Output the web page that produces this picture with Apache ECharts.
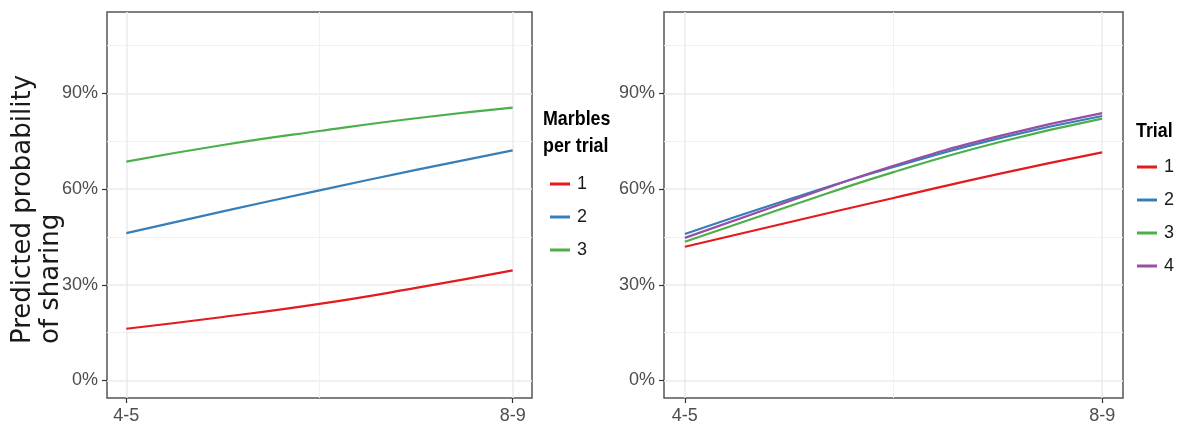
<!DOCTYPE html>
<html>
<head>
<meta charset="utf-8">
<script src="https://cdn.jsdelivr.net/npm/echarts@6/dist/echarts.min.js"></script>
<style>
html,body{margin:0;padding:0;background:#fff;}
#chart{width:1178px;height:427px;}
</style>
</head>
<body>
<div id="chart"></div>
<script>
// Age positions along the x axis where values were read (0 = "4-5", 1 = "8-9")
const agePositions = [0, 0.25, 0.5, 0.75, 1];
const ageTickValues = [0, 1];
const ageTickLabels = ['4-5', '8-9'];
const yTickValues = [0, 30, 60, 90];
const yMinorValues = [15, 45, 75, 105];

// Left panel: Marbles per trial (predicted probability, %)
const marblesNames = ['1', '2', '3'];
const marbles1 = [16.2, 19.9, 24.0, 29.0, 34.5];
const marbles2 = [46.2, 53.0, 59.6, 66.0, 72.1];
const marbles3 = [68.6, 73.8, 78.2, 82.2, 85.5];

// Right panel: Trial (predicted probability, %)
const trialNames = ['1', '2', '3', '4'];
const trial1 = [41.9, 49.6, 57.2, 64.7, 71.5];
const trial2 = [45.9, 56.8, 66.9, 75.8, 82.9];
const trial3 = [43.5, 54.6, 65.3, 74.6, 82.1];
const trial4 = [44.7, 56.2, 67.3, 76.5, 83.8];

const colors = ['#E41A1C', '#377EB8', '#4DAF4A', '#984EA3'];

const tickFont = '"Liberation Sans Narrow", "Liberation Sans", Arial, sans-serif';
const tickColor = '#4d4d4d';

function pairs(vals) { return vals.map((v, i) => [agePositions[i], v]); }

const grids = [
  {left: 107, top: 12, width: 425, height: 386},
  {left: 664, top: 12, width: 459, height: 386}
];

const xAxes = [], yAxes = [];
grids.forEach((g, gi) => {
  xAxes.push({
    type: 'value', gridIndex: gi, min: -0.05, max: 1.05, position: 'bottom',
    axisLine: {show: false, onZero: false},
    axisTick: {show: true, length: 5, customValues: ageTickValues, lineStyle: {color: '#333', width: 1.2}},
    axisLabel: {customValues: ageTickValues, formatter: v => ageTickLabels[ageTickValues.indexOf(v)] || '',
      fontFamily: tickFont, fontSize: 18, color: tickColor, margin: 9},
    splitLine: {show: true, lineStyle: {color: '#ebebeb', width: 1.5}}
  });
  xAxes.push({
    type: 'value', gridIndex: gi, min: -0.05, max: 1.05, position: 'bottom',
    axisLine: {show: false, onZero: false}, axisLabel: {show: false},
    axisTick: {show: false, customValues: [0.5]},
    splitLine: {show: true, lineStyle: {color: '#f1f1f1', width: 1}}
  });
  yAxes.push({
    type: 'value', gridIndex: gi, min: -5.5, max: 115.5, position: 'left',
    axisLine: {show: false, onZero: false},
    axisTick: {show: true, length: 5, customValues: yTickValues, lineStyle: {color: '#333', width: 1.2}},
    axisLabel: {customValues: yTickValues, formatter: v => v + '%', fontFamily: tickFont,
      fontSize: 18, color: tickColor, margin: 9},
    splitLine: {show: true, lineStyle: {color: '#ebebeb', width: 1.5}}
  });
  yAxes.push({
    type: 'value', gridIndex: gi, min: -5.5, max: 115.5, position: 'left',
    axisLine: {show: false, onZero: false}, axisLabel: {show: false},
    axisTick: {show: false, customValues: yMinorValues},
    splitLine: {show: true, lineStyle: {color: '#f1f1f1', width: 1}}
  });
});

const series = [];
[marbles1, marbles2, marbles3].forEach((vals, i) => {
  series.push({name: marblesNames[i], type: 'line', xAxisIndex: 0, yAxisIndex: 0, smooth: true,
    showSymbol: false, data: pairs(vals), lineStyle: {width: 2.2, color: colors[i]}, itemStyle: {color: colors[i]}, z: 5});
});
[trial1, trial2, trial3, trial4].forEach((vals, i) => {
  series.push({name: trialNames[i], type: 'line', xAxisIndex: 2, yAxisIndex: 2, smooth: true,
    showSymbol: false, data: pairs(vals), lineStyle: {width: 2.2, color: colors[i]}, itemStyle: {color: colors[i]}, z: 5});
});

const legendCommon = {
  orient: 'vertical', icon: 'rect', itemWidth: 20, itemHeight: 3, itemGap: 15, padding: 0,
  selectedMode: false,
  textStyle: {fontFamily: tickFont, fontSize: 18, color: '#1a1a1a', lineHeight: 18, padding: [0, 0, 0, 2]}
};

const option = {
  backgroundColor: '#fff',
  animation: false,
  grid: grids.map(g => Object.assign({show: true, borderColor: '#555', borderWidth: 1.5, backgroundColor: 'transparent'}, g)),
  xAxis: xAxes,
  yAxis: yAxes,
  legend: [
    Object.assign({}, legendCommon, {left: 550, top: 175, data: marblesNames.slice()}),
    Object.assign({}, legendCommon, {left: 1137, top: 158, data: trialNames.slice()})
  ],
  graphic: [
    {type: 'text', x: 543, y: 106, scaleX: 0.85, style: {text: 'Marbles\nper trial', font: 'bold 21px ' + tickFont,
      fill: '#000', lineHeight: 27, textAlign: 'left', textVerticalAlign: 'top'}},
    {type: 'text', x: 1136, y: 121, scaleX: 0.85, style: {text: 'Trial', font: 'bold 21px ' + tickFont,
      fill: '#000', textAlign: 'left', textVerticalAlign: 'top'}},
    {type: 'text', x: 37, y: 344, rotation: Math.PI / 2,
      style: {text: 'Predicted probability\nof sharing', font: '26px "DejaVu Sans", sans-serif',
        fill: '#1a1a1a', lineHeight: 28, textAlign: 'left', textVerticalAlign: 'middle'}}
  ],
  series: series
};

const chart = echarts.init(document.getElementById('chart'), null, {renderer: 'canvas'});
chart.setOption(option);
</script>
</body>
</html>
